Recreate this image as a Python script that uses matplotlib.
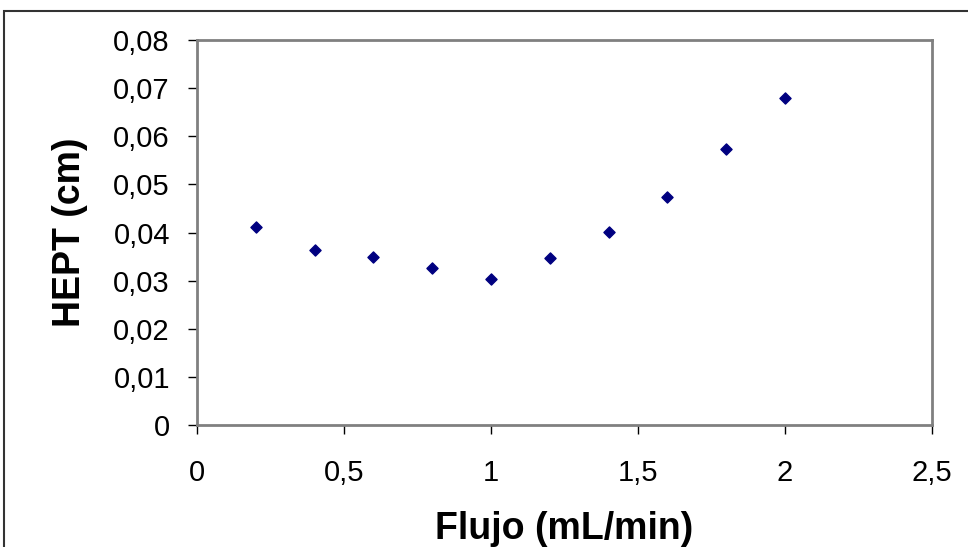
import matplotlib
matplotlib.use("Agg")
import matplotlib.pyplot as plt
from matplotlib.ticker import FuncFormatter, MultipleLocator
from matplotlib.patches import Rectangle

# data
flujo = [0.2, 0.4, 0.6, 0.8, 1.0, 1.2, 1.4, 1.6, 1.8, 2.0]
hept = [0.0412, 0.0364, 0.0349, 0.0326, 0.0303, 0.0346, 0.0402, 0.0474, 0.0573, 0.0679]

plt.rcParams['font.family'] = ['Liberation Sans', 'DejaVu Sans']

fig = plt.figure(figsize=(9.68, 5.47), dpi=100)
ax = fig.add_axes([0.2035, 0.2230, 0.7593, 0.7039])

ax.scatter(flujo, hept, marker="D", s=32, color="#000080", zorder=3)

ax.set_xlim(0, 2.5)
ax.set_ylim(0, 0.08)
ax.xaxis.set_major_locator(MultipleLocator(0.5))
ax.yaxis.set_major_locator(MultipleLocator(0.01))

def coma(v, pos):
    s = ("%.2f" % v).rstrip("0").rstrip(".")
    return s.replace(".", ",")

ax.xaxis.set_major_formatter(FuncFormatter(coma))
ax.yaxis.set_major_formatter(FuncFormatter(coma))
ax.tick_params(direction="out", length=6.5, width=1, colors="black",
               labelsize=21)
ax.tick_params(axis="y", pad=13)
ax.tick_params(axis="x", pad=18)

for sp in ax.spines.values():
    sp.set_color("#808080")
    sp.set_linewidth(2)

ax.set_xlabel("Flujo (mL/min)", fontsize=27, fontweight="bold", labelpad=17)
ax.set_ylabel("HEPT (cm)", fontsize=27, fontweight="bold", labelpad=18)

# outer chart frame (partly cut off in the reference)
fig.patches.append(Rectangle((0.004, -0.05), 1.1, 1.03,
                             transform=fig.transFigure, fill=False,
                             edgecolor="#333333", linewidth=1.5))

fig.savefig("out.png", dpi=100)
